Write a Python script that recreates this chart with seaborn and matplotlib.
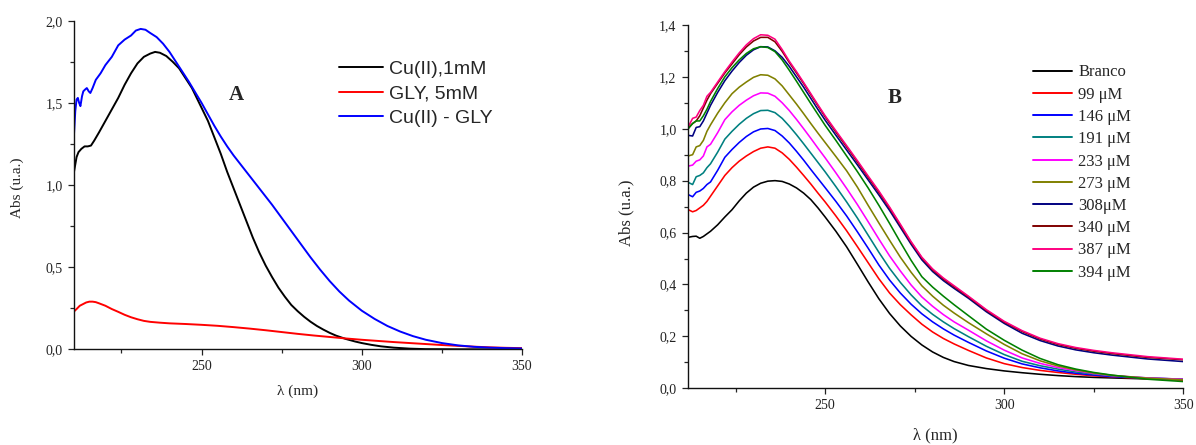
import numpy as np
import pandas as pd
import matplotlib
matplotlib.use("Agg")
import matplotlib.pyplot as plt
from matplotlib.ticker import MultipleLocator, FuncFormatter
import seaborn as sns

# ---------------- Panel A data ----------------
wl_cu = [210.2, 211, 211.6, 212.5, 213.5, 214.5, 215.5, 216.5, 218, 220, 222, 224, 226, 228,
         230, 232, 234, 235.5, 237, 239, 241, 243, 245, 247, 250, 252, 254, 256, 258, 260,
         262, 264, 266, 268, 270, 272, 274, 276, 278, 280, 282, 284, 286, 288, 290, 292, 295,
         298, 300, 303, 306, 310, 315, 320, 330, 340, 350]
abs_cu = [1.08, 1.17, 1.20, 1.22, 1.235, 1.235, 1.24, 1.27, 1.32, 1.39, 1.46, 1.53, 1.61, 1.68,
          1.74, 1.78, 1.80, 1.81, 1.805, 1.785, 1.75, 1.71, 1.65, 1.59, 1.47, 1.39, 1.29, 1.19,
          1.08, 0.98, 0.88, 0.78, 0.68, 0.59, 0.51, 0.44, 0.375, 0.32, 0.27, 0.232, 0.198, 0.168,
          0.142, 0.12, 0.10, 0.083, 0.063, 0.047, 0.038, 0.027, 0.018, 0.01, 0.004, 0.001, 0.0,
          0.0, 0.0]

wl_gly = [210.2, 211, 212, 213, 214, 215, 216, 217, 218, 220, 222, 224, 226, 228, 230, 232,
          234, 237, 240, 245, 250, 255, 260, 265, 270, 275, 280, 285, 290, 295, 300, 305,
          310, 315, 320, 325, 330, 335, 340, 345, 350]
abs_gly = [0.23, 0.245, 0.265, 0.275, 0.285, 0.29, 0.29, 0.287, 0.28, 0.265, 0.245, 0.228,
           0.21, 0.195, 0.183, 0.173, 0.167, 0.162, 0.158, 0.154, 0.149, 0.143, 0.135, 0.126,
           0.116, 0.105, 0.094, 0.084, 0.075, 0.066, 0.058, 0.051, 0.044, 0.038, 0.032, 0.026,
           0.021, 0.016, 0.012, 0.009, 0.007]

wl_cugly = [210.2, 210.6, 211.0, 211.4, 211.8, 212.2, 212.7, 213.1, 213.6, 214.2, 214.8, 215.3,
            216, 217, 218.5, 220, 222, 224, 226, 228, 229.5, 231, 232.5, 234, 236, 238, 240,
            242, 244, 246, 248, 250, 252, 254, 256, 258, 260, 263, 266, 269, 272, 275, 278,
            281, 284, 287, 290, 293, 296, 300, 304, 308, 312, 316, 320, 325, 330, 335, 340,
            345, 350]
abs_cugly = [1.31, 1.45, 1.52, 1.53, 1.50, 1.48, 1.54, 1.57, 1.58, 1.59, 1.57, 1.56,
             1.59, 1.64, 1.68, 1.73, 1.78, 1.85, 1.885, 1.91, 1.94, 1.95, 1.945, 1.925, 1.90,
             1.86, 1.81, 1.75, 1.69, 1.63, 1.565, 1.50, 1.43, 1.36, 1.295, 1.235, 1.18, 1.105,
             1.03, 0.955, 0.88, 0.80, 0.72, 0.64, 0.56, 0.485, 0.415, 0.352, 0.297, 0.235,
             0.185, 0.142, 0.108, 0.08, 0.058, 0.038, 0.024, 0.015, 0.01, 0.007, 0.005]

labels_a = ["Cu(II),1mM", "GLY, 5mM", "Cu(II) - GLY"]
colors_a = ["#000000", "#FF0000", "#0000FF"]

# ---------------- Panel B data ----------------
wl_b = [211.5, 213, 214, 215, 216, 217, 218, 220, 222, 224, 226, 228, 230, 232, 234, 236, 238,
        240, 242, 244, 246, 248, 250, 253, 256, 259, 262, 265, 268, 271, 274, 277, 280, 283,
        286, 290, 295, 300, 305, 310, 315, 320, 325, 330, 340, 350]

b_branco = [0.581, 0.585, 0.586, 0.578, 0.585, 0.595, 0.605, 0.63, 0.66, 0.688, 0.722, 0.752,
            0.775, 0.79, 0.798, 0.80, 0.797, 0.787, 0.772, 0.752, 0.727, 0.695, 0.66, 0.605,
            0.545, 0.478, 0.41, 0.345, 0.288, 0.24, 0.2, 0.167, 0.14, 0.119, 0.103, 0.088,
            0.076, 0.067, 0.06, 0.054, 0.049, 0.045, 0.042, 0.04, 0.036, 0.033]
b_99 = [0.69, 0.68, 0.685, 0.695, 0.705, 0.72, 0.74, 0.78, 0.82, 0.85, 0.875, 0.895, 0.912,
        0.925, 0.93, 0.925, 0.907, 0.882, 0.852, 0.82, 0.787, 0.752, 0.718, 0.664, 0.607,
        0.546, 0.484, 0.422, 0.367, 0.322, 0.283, 0.247, 0.217, 0.192, 0.171, 0.146, 0.117,
        0.095, 0.08, 0.069, 0.061, 0.054, 0.048, 0.044, 0.037, 0.032]
b_146 = [0.748, 0.738, 0.755, 0.76, 0.77, 0.785, 0.795, 0.84, 0.89, 0.92, 0.947, 0.97, 0.988,
         0.999, 1.001, 0.993, 0.972, 0.945, 0.913, 0.879, 0.843, 0.808, 0.773, 0.72, 0.664,
         0.603, 0.54, 0.475, 0.417, 0.367, 0.324, 0.287, 0.256, 0.229, 0.205, 0.177, 0.144,
         0.116, 0.094, 0.079, 0.067, 0.058, 0.051, 0.045, 0.039, 0.035]
b_191 = [0.795, 0.785, 0.815, 0.82, 0.83, 0.85, 0.865, 0.91, 0.96, 0.99, 1.017, 1.04, 1.058,
         1.07, 1.071, 1.062, 1.04, 1.01, 0.977, 0.942, 0.906, 0.87, 0.834, 0.777, 0.718,
         0.656, 0.59, 0.524, 0.462, 0.408, 0.36, 0.318, 0.285, 0.256, 0.23, 0.199, 0.162,
         0.13, 0.104, 0.087, 0.074, 0.063, 0.055, 0.048, 0.04, 0.035]
b_233 = [0.855, 0.86, 0.875, 0.88, 0.895, 0.93, 0.94, 0.985, 1.035, 1.065, 1.09, 1.11, 1.127,
         1.138, 1.137, 1.125, 1.10, 1.07, 1.036, 1.0, 0.963, 0.925, 0.888, 0.83, 0.77, 0.708,
         0.642, 0.575, 0.51, 0.452, 0.398, 0.352, 0.316, 0.284, 0.256, 0.224, 0.183, 0.147,
         0.117, 0.096, 0.08, 0.068, 0.057, 0.049, 0.04, 0.035]
b_273 = [0.894, 0.90, 0.93, 0.935, 0.955, 0.99, 1.015, 1.06, 1.10, 1.135, 1.16, 1.18, 1.198,
         1.208, 1.206, 1.192, 1.165, 1.13, 1.095, 1.058, 1.02, 0.983, 0.947, 0.893, 0.838,
         0.775, 0.705, 0.637, 0.57, 0.505, 0.447, 0.395, 0.355, 0.32, 0.29, 0.253, 0.21,
         0.169, 0.133, 0.106, 0.086, 0.071, 0.059, 0.05, 0.039, 0.033]
b_308 = [0.975, 0.972, 1.005, 1.008, 1.03, 1.06, 1.09, 1.14, 1.185, 1.222, 1.255, 1.283, 1.304,
         1.316, 1.315, 1.30, 1.275, 1.24, 1.20, 1.16, 1.117, 1.074, 1.033, 0.975, 0.918,
         0.861, 0.803, 0.745, 0.685, 0.62, 0.555, 0.495, 0.45, 0.415, 0.385, 0.347, 0.295,
         0.25, 0.212, 0.184, 0.163, 0.148, 0.137, 0.128, 0.113, 0.103]
b_340 = [1.0, 1.02, 1.03, 1.05, 1.08, 1.11, 1.135, 1.175, 1.215, 1.25, 1.285, 1.315, 1.338,
         1.352, 1.352, 1.335, 1.298, 1.255, 1.215, 1.174, 1.131, 1.088, 1.046, 0.987, 0.93,
         0.872, 0.813, 0.755, 0.694, 0.628, 0.562, 0.502, 0.456, 0.421, 0.391, 0.352, 0.30,
         0.255, 0.219, 0.19, 0.169, 0.154, 0.143, 0.134, 0.119, 0.11]
b_387 = [1.0, 1.04, 1.045, 1.07, 1.09, 1.125, 1.14, 1.18, 1.22, 1.257, 1.292, 1.323, 1.347,
         1.362, 1.36, 1.345, 1.305, 1.26, 1.22, 1.178, 1.135, 1.092, 1.05, 0.992, 0.935,
         0.877, 0.818, 0.76, 0.698, 0.632, 0.565, 0.505, 0.46, 0.425, 0.395, 0.355, 0.303,
         0.258, 0.222, 0.193, 0.172, 0.157, 0.146, 0.137, 0.122, 0.112]
b_394 = [0.995, 1.02, 1.03, 1.03, 1.05, 1.075, 1.105, 1.155, 1.20, 1.235, 1.265, 1.29, 1.308,
         1.316, 1.313, 1.297, 1.265, 1.225, 1.183, 1.14, 1.097, 1.055, 1.013, 0.955, 0.895,
         0.835, 0.772, 0.705, 0.635, 0.563, 0.493, 0.43, 0.39, 0.355, 0.322, 0.28, 0.228,
         0.185, 0.147, 0.115, 0.091, 0.074, 0.061, 0.051, 0.035, 0.026]

labels_b = ["Branco", "99 μM", "146 μM", "191 μM", "233 μM", "273 μM", "308μM", "340 μM",
            "387 μM", "394 μM"]
colors_b = ["#000000", "#FF0000", "#0000FF", "#008080", "#FF00FF", "#808000", "#000080",
            "#800000", "#FF0080", "#008000"]

# ---------------- styling ----------------
sns.set_style("ticks")
plt.rcParams['font.family'] = ['Liberation Serif', 'DejaVu Serif']
plt.rcParams['mathtext.fontset'] = 'stix'

W, H = 1196, 445
fig = plt.figure(figsize=(W / 100, H / 100), dpi=100)


def px_axes(l, t, r, b):
    return fig.add_axes([l / W, 1 - b / H, (r - l) / W, (b - t) / H])


axA = px_axes(74, 20.7, 522, 349.3)
axB = px_axes(687.6, 24.9, 1183.3, 388.3)

comma = FuncFormatter(lambda v, p: f"{v:.1f}".replace(".", ","))
intfmt = FuncFormatter(lambda v, p: f"{v:.0f}")

# Panel A
series_a = [(wl_cu, abs_cu), (wl_gly, abs_gly), (wl_cugly, abs_cugly)]
for (x, y), lab, c in zip(series_a, labels_a, colors_a):
    sns.lineplot(x=x, y=y, ax=axA, color=c, label=lab, lw=1.4, sort=False, estimator=None)

# Panel B
series_b = [b_branco, b_99, b_146, b_191, b_233, b_273, b_308, b_340, b_387, b_394]
for y, lab, c in zip(series_b, labels_b, colors_b):
    sns.lineplot(x=wl_b, y=y, ax=axB, color=c, label=lab, lw=1.15, sort=False, estimator=None)

axA.set_xlim(210.2, 350)
axA.set_ylim(0, 2.0)
axB.set_xlim(211.6, 350)
axB.set_ylim(0, 1.4)

for ax, ymaj, ymin in [(axA, 0.5, 0.25), (axB, 0.2, 0.1)]:
    ax.xaxis.set_major_locator(MultipleLocator(50))
    ax.xaxis.set_minor_locator(MultipleLocator(25))
    ax.yaxis.set_major_locator(MultipleLocator(ymaj))
    ax.yaxis.set_minor_locator(MultipleLocator(ymin))
    ax.yaxis.set_major_formatter(comma)
    ax.xaxis.set_major_formatter(intfmt)
    ax.tick_params(which='major', direction='out', length=4.5, width=0.9, pad=3.5,
                   labelsize=10, colors='#222222')
    ax.tick_params(which='minor', direction='out', length=2.6, width=0.9)
    for s in ['top', 'right']:
        ax.spines[s].set_visible(False)
    for s in ['left', 'bottom']:
        ax.spines[s].set_linewidth(1.0)
        ax.spines[s].set_color('#111111')
    ax.set_facecolor('white')

axA.set_xlabel("λ (nm)", fontsize=11)
axA.set_ylabel("Abs (u.a.)", fontsize=11)
axA.xaxis.set_label_coords(0.5, (349.3 - 391.7) / 328.6)
axA.xaxis.label.set_va('center')
axA.yaxis.set_label_coords((17 - 74) / 448, (349.3 - 188) / 328.6)
axA.yaxis.label.set_va('center')

axB.set_xlabel("λ (nm)", fontsize=12)
axB.set_ylabel("Abs (u.a.)", fontsize=12)
axB.xaxis.set_label_coords(0.5, (388.3 - 435) / 363.4)
axB.xaxis.label.set_va('center')
axB.yaxis.set_label_coords((626 - 687.6) / 495.7, (388.3 - 212.5) / 363.4)
axB.yaxis.label.set_va('center')

# panel letters
fig.text(236.7 / W, 1 - 95 / H, "A", fontsize=15, fontweight='bold', ha='center', va='center')
fig.text(894.6 / W, 1 - 97.8 / H, "B", fontsize=15, fontweight='bold', ha='center', va='center')

# legends
legA = axA.legend(loc='upper left', bbox_to_anchor=(339.3 / W, 1 - 60 / H),
                  bbox_transform=fig.transFigure, frameon=False, borderpad=0,
                  borderaxespad=0, handlelength=2.27, handletextpad=0.3, labelspacing=0.37,
                  prop={'family': ['Liberation Sans', 'DejaVu Sans'], 'size': 14})
for h in legA.get_lines():
    h.set_linewidth(1.4)

legB = axB.legend(loc='upper left', bbox_to_anchor=(1033.3 / W, 1 - 64.5 / H),
                  bbox_transform=fig.transFigure, frameon=False, borderpad=0,
                  borderaxespad=0, handlelength=2.35, handletextpad=0.34, labelspacing=0.375,
                  prop={'family': ['Liberation Serif', 'DejaVu Serif'], 'size': 12})
for h in legB.get_lines():
    h.set_linewidth(1.4)

fig.savefig("out.png", dpi=100, facecolor='white')
